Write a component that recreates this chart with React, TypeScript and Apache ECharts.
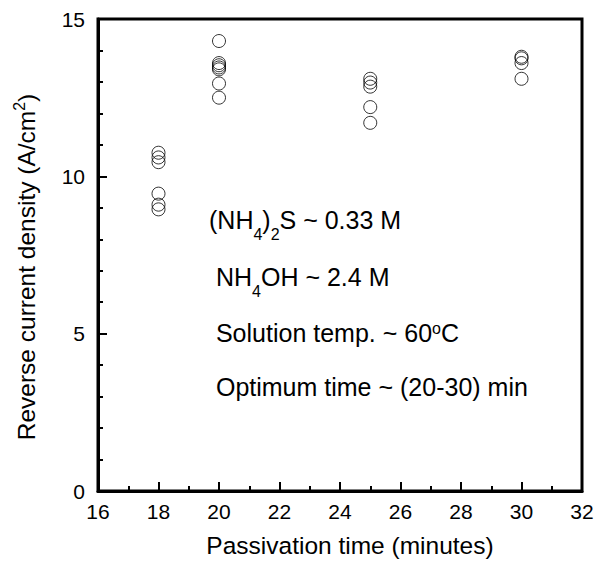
import React, { useEffect, useRef } from "react";
import * as echarts from "echarts";

// Passivation time (minutes) groups and measured reverse current density (A/cm^2)
const times18 = [18, 18, 18, 18, 18, 18];
const density18 = [10.75, 10.6, 10.45, 9.45, 9.1, 8.95];
const times20 = [20, 20, 20, 20, 20, 20, 20];
const density20 = [14.3, 13.6, 13.53, 13.46, 13.4, 12.95, 12.5];
const times25 = [25, 25, 25, 25, 25];
const density25 = [13.1, 12.98, 12.85, 12.2, 11.7];
const times30 = [30, 30, 30, 30];
const density30 = [13.8, 13.75, 13.6, 13.1];

const xTicks = [16, 18, 20, 22, 24, 26, 28, 30, 32];
const yTicks = [0, 5, 10, 15];

const annotations = [
  "{m|(NH}{sub|4}{m|)}{sub|2}{m|S ~ 0.33 M}",
  "{m| NH}{sub|4}{m|OH ~ 2.4 M}",
  "{m| Solution temp. ~ 60}{sup|o}{m|C}",
  "{m| Optimum time ~ (20-30) min}",
];

const FONT = "'Liberation Sans', Arial, Helvetica, sans-serif";

const GRID = { left: 98, right: 15, top: 19, bottom: 75 };
const W = 597;
const H = 566;

function pairs(xs: number[], ys: number[]) {
  return xs.map((x, i) => [x, ys[i]]);
}

export default function App() {
  const ref = useRef<HTMLDivElement>(null);
  useEffect(() => {
    if (!ref.current) return;
    const chart = echarts.init(ref.current, null, { renderer: "svg" });
    const data = [
      ...pairs(times18, density18),
      ...pairs(times20, density20),
      ...pairs(times25, density25),
      ...pairs(times30, density30),
    ];
    const annoRich = {
      m: { fontSize: 25, lineHeight: 40, fontFamily: FONT, color: "#000" },
      sub: { fontSize: 16, lineHeight: 40, fontFamily: FONT, color: "#000", padding: [28, 0, 0, 0] },
      sup: { fontSize: 16, lineHeight: 40, fontFamily: FONT, color: "#000", padding: [0, 0, 10, 0] },
    };
    const annoY = [218, 275, 340, 394];
    const mkAxisCommon = () => ({
      axisLine: { show: true, onZero: false, lineStyle: { color: "#000", width: 3 } },
      axisTick: { show: true, inside: true, length: 9, lineStyle: { color: "#000", width: 2 } },
      splitLine: { show: false },
    });
    chart.setOption({
      animation: false,
      grid: { ...GRID },
      xAxis: {
        type: "value",
        min: xTicks[0],
        max: xTicks[xTicks.length - 1],
        interval: 2,
        ...mkAxisCommon(),
        minorTick: { show: true, splitNumber: 2, length: 5, lineStyle: { color: "#000", width: 2 } },
        axisLabel: { color: "#000", fontSize: 21, fontFamily: FONT, margin: 10 },
        name: "Passivation time (minutes)",
        nameLocation: "middle",
        nameGap: 42,
        nameTextStyle: { color: "#000", fontSize: 24.5, fontFamily: FONT, padding: [0, 0, 0, 20] },
      },
      yAxis: {
        type: "value",
        min: yTicks[0],
        max: yTicks[yTicks.length - 1],
        interval: 5,
        ...mkAxisCommon(),
        minorTick: { show: true, splitNumber: 5, length: 5, lineStyle: { color: "#000", width: 2 } },
        axisLabel: { color: "#000", fontSize: 21, fontFamily: FONT, margin: 13 },
        name: "Reverse current density (A/cm{sup|2})",
        nameLocation: "middle",
        nameGap: 57,
        nameTextStyle: {
          color: "#000",
          fontSize: 24.5,
          fontFamily: FONT,
          padding: [0, 24, 0, 0],
          rich: {
            sup: { fontSize: 16, fontFamily: FONT, color: "#000", padding: [0, 0, 14, 0] },
          },
        },
      },
      series: [
        {
          type: "scatter",
          data,
          symbol: "circle",
          symbolSize: 13,
          itemStyle: { color: "rgba(0,0,0,0)", borderColor: "#000", borderWidth: 1 },
          emphasis: { disabled: true },
          z: 3,
        },
      ],
      graphic: [
        {
          type: "rect",
          silent: true,
          z: 1,
          shape: {
            x: GRID.left,
            y: GRID.top,
            width: W - GRID.left - GRID.right,
            height: H - GRID.top - GRID.bottom,
          },
          style: { fill: "none", stroke: "#000", lineWidth: 3 },
        },
        ...annotations.map((t, i) => ({
          type: "text",
          left: 209,
          top: annoY[i] - 20,
          silent: true,
          style: {
            text: t,
            rich: annoRich,
            fill: "#000",
          },
        })),
      ],
    });
    return () => chart.dispose();
  }, []);
  return (
    <div
      ref={ref}
      style={{ position: "absolute", left: 0, top: 0, width: W, height: H }}
    />
  );
}
